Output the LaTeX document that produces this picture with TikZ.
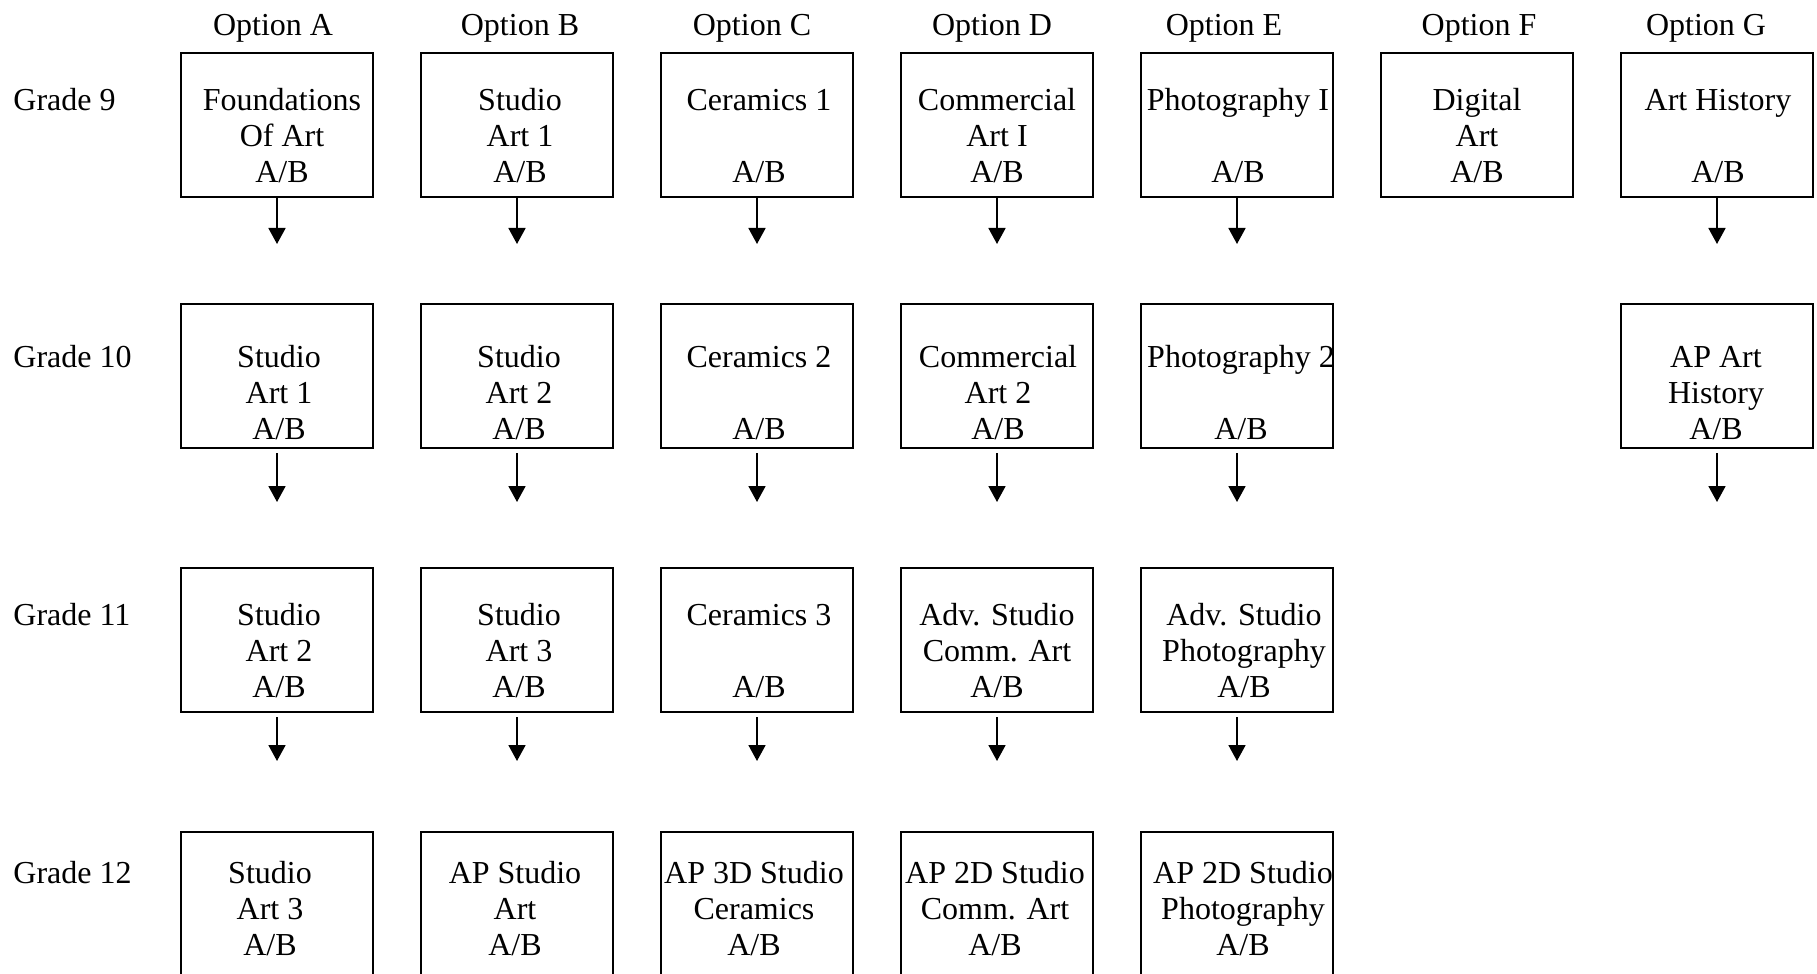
\documentclass[tikz,border=0pt]{standalone}
\usepackage{fontspec}
\setmainfont{Liberation Serif}
\usetikzlibrary{arrows.meta}
\tikzset{
  box/.style={draw, line width=0.85pt, minimum width=96pt, minimum height=72pt, inner sep=0pt, outer sep=0pt},
  ctext/.style={anchor=base, inner sep=0pt, outer sep=0pt, font=\fontsize{16}{18}\selectfont},
  lab/.style={anchor=base, inner sep=0pt, font=\fontsize{16}{18}\selectfont},
  glab/.style={anchor=base west, inner sep=0pt, font=\fontsize{16}{18}\selectfont},
  arr/.style={line width=0.9pt, -{Triangle[width=8.5pt,length=8pt]}}
}
% #1 name, #2 box x centre, #3 box top, #4 text x, #5 first baseline y, #6 lines
\newcommand\crs[6]{%
  \node[box] (#1) at (#2,#3+72) {};
  \node[ctext] (#1t) at (#4,#5) {\begin{tabular}[t]{@{}c@{}}#6\end{tabular}};}
\begin{document}
\begin{tikzpicture}[x=0.5pt,y=-0.5pt]
\useasboundingbox (0,0) rectangle (1817,974);
\clip (0,0) rectangle (1817,974);
% option headers
\node[lab] (oA) at (273,35.5) {Option A};
\node[lab] (oB) at (520,35.5) {Option B};
\node[lab] (oC) at (752,35.5) {Option C};
\node[lab] (oD) at (992,35.5) {Option D};
\node[lab] (oE) at (1224,35.5) {Option E};
\node[lab] (oF) at (1479,35.5) {Option F};
\node[lab] (oG) at (1706,35.5) {Option G};
% grade labels
\node[glab] (g9) at (13,110.5) {Grade 9};
\node[glab] (g10) at (13,367.5) {Grade 10};
\node[glab] (g11) at (13,625.5) {Grade 11};
\node[glab] (g12) at (13,883.5) {Grade 12};
% grade 9
\crs{a1}{277}{53}{282}{110.5}{Foundations\\Of Art\\A/B}
\crs{b1}{517}{53}{520}{110.5}{Studio\\Art 1\\A/B}
\crs{c1}{757}{53}{759}{110.5}{Ceramics 1\\ \\A/B}
\crs{d1}{997}{53}{997}{110.5}{Commercial\\Art I\\A/B}
\crs{e1}{1237}{53}{1238}{110.5}{Photography I\\ \\A/B}
\crs{f1}{1477}{53}{1477}{110.5}{Digital\\Art\\A/B}
\crs{g1}{1717}{53}{1718}{110.5}{Art History\\ \\A/B}
% grade 10
\crs{a2}{277}{304}{279}{367.5}{Studio\\Art 1\\A/B}
\crs{b2}{517}{304}{519}{367.5}{Studio\\Art 2\\A/B}
\crs{c2}{757}{304}{759}{367.5}{Ceramics 2\\ \\A/B}
\crs{d2}{997}{304}{998}{367.5}{Commercial\\Art 2\\A/B}
\crs{e2}{1237}{304}{1241}{367.5}{Photography 2\\ \\A/B}
\crs{g2}{1717}{304}{1716}{367.5}{AP Art\\History\\A/B}
% grade 11
\crs{a3}{277}{568}{279}{625.5}{Studio\\Art 2\\A/B}
\crs{b3}{517}{568}{519}{625.5}{Studio\\Art 3\\A/B}
\crs{c3}{757}{568}{759}{625.5}{Ceramics 3\\ \\A/B}
\crs{d3}{997}{568}{997}{625.5}{Adv. Studio\\Comm. Art\\A/B}
\crs{e3}{1237}{568}{1244}{625.5}{Adv. Studio\\Photography\\A/B}
% grade 12
\crs{a4}{277}{832}{270}{883.5}{Studio\\Art 3\\A/B}
\crs{b4}{517}{832}{515}{883.5}{AP Studio\\Art\\A/B}
\crs{c4}{757}{832}{754}{883.5}{AP 3D Studio\\Ceramics\\A/B}
\crs{d4}{997}{832}{995}{883.5}{AP 2D Studio\\Comm. Art\\A/B}
\crs{e4}{1237}{832}{1243}{883.5}{AP 2D Studio\\Photography\\A/B}
% arrow end points
\foreach \n/\x in {a/277,b/517,c/757,d/997,e/1237,g/1717}{
  \coordinate (\n1e) at (\x,244);
  \coordinate (\n2e) at (\x,502);}
\foreach \n/\x in {a/277,b/517,c/757,d/997,e/1237}{
  \coordinate (\n3e) at (\x,761);}
% arrows
\foreach \n in {a,b,c,d,e,g}{
  \draw[arr] (\n1.south) -- (\n1e);
  \draw[arr] ([yshift=-2.5pt]\n2.south) -- (\n2e);}
\foreach \n in {a,b,c,d,e}{
  \draw[arr] ([yshift=-2.5pt]\n3.south) -- (\n3e);}
\end{tikzpicture}
\end{document}
